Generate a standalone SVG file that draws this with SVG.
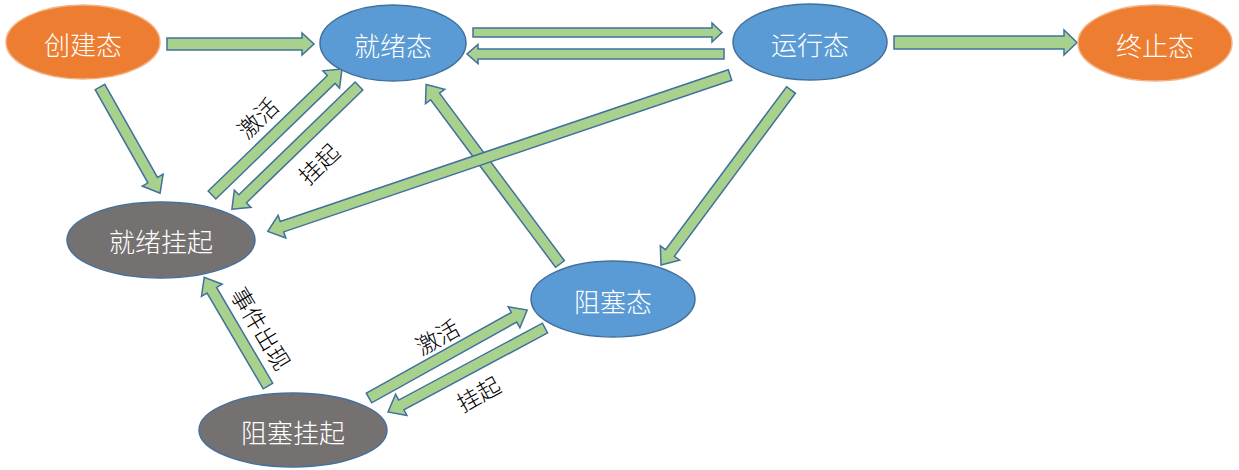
<svg xmlns="http://www.w3.org/2000/svg" width="1239" height="470" viewBox="0 0 1239 470">
<style>
.orange{fill:#ED7D31;stroke:#F4B183;stroke-width:1.5}
.blue{fill:#5B9BD5;stroke:#41719C;stroke-width:1.5}
.gray{fill:#767171;stroke:#41719C;stroke-width:1.5}
.nt{font-family:"Noto Sans CJK SC","Noto Sans",sans-serif;font-size:26px;font-weight:300;fill:#FFFFFF;text-anchor:middle;dominant-baseline:central}
.lb{font-family:"Noto Sans CJK SC","Noto Sans",sans-serif;font-size:23px;font-weight:300;fill:#000000;text-anchor:middle;dominant-baseline:central}
.arr{fill:#A9D18E;stroke:#41719C;stroke-width:1.5;stroke-linejoin:miter}
</style>
<rect width="1239" height="470" fill="#FFFFFF"/>
<g id="connectors">
  <polygon class="arr" transform="translate(167,44)" points="0,-6 135,-6 135,-11 147,0 135,11 135,6 0,6"/>
  <polygon class="arr" transform="translate(473,32.5)" points="0,-4.5 239,-4.5 239,-9.5 249,0 239,9.5 239,4.5 0,4.5"/>
  <polygon class="arr" transform="translate(724,54) rotate(180)" points="0,-5 246,-5 246,-9.5 257,0 246,9.5 246,5 0,5"/>
  <polygon class="arr" transform="translate(894,42.5)" points="0,-6.5 170,-6.5 170,-12.5 183,0 170,12.5 170,6.5 0,6.5"/>
  <polygon class="arr" transform="translate(100,87) rotate(60.5)" points="0,-5.5 107,-5.5 107,-12 122,0 107,12 107,5.5 0,5.5"/>
  <polygon class="arr" transform="translate(212,195) rotate(-44.1)" points="0,-5.5 166,-5.5 166,-12 181,0 166,12 166,5.5 0,5.5"/>
  <polygon class="arr" transform="translate(359,86) rotate(135.9)" points="0,-5.5 162,-5.5 162,-12 177,0 162,12 162,5.5 0,5.5"/>
  <polygon class="arr" transform="translate(560,264) rotate(-126.7)" points="0,-5.5 209,-5.5 209,-12 224,0 209,12 209,5.5 0,5.5"/>
  <polygon class="arr" transform="translate(730,75) rotate(161.3)" points="0,-5.5 473,-5.5 473,-12 488,0 473,12 473,5.5 0,5.5"/>
  <polygon class="arr" transform="translate(791,90) rotate(126.6)" points="0,-5.5 203,-5.5 203,-12 218,0 203,12 203,5.5 0,5.5"/>
  <polygon class="arr" transform="translate(268,386) rotate(-120.4)" points="0,-5.5 111,-5.5 111,-12 126,0 111,12 111,5.5 0,5.5"/>
  <polygon class="arr" transform="translate(369,398) rotate(-29.1)" points="0,-5.5 166,-5.5 166,-12 181,0 166,12 166,5.5 0,5.5"/>
  <polygon class="arr" transform="translate(545,328) rotate(151.85)" points="0,-5.5 163,-5.5 163,-12 178,0 163,12 163,5.5 0,5.5"/>
  <text class="lb" transform="translate(257,117) rotate(-44)">激活</text>
  <text class="lb" transform="translate(318,163) rotate(-44)">挂起</text>
  <text class="lb" transform="translate(262,328) rotate(59)">事件出现</text>
  <text class="lb" transform="translate(437,336) rotate(-29)">激活</text>
  <text class="lb" transform="translate(478,393) rotate(-29)">挂起</text>
</g>
<g id="node-create"><ellipse class="orange" cx="83" cy="42" rx="77" ry="37"/><text class="nt" x="83" y="43">创建态</text></g>
<g id="node-ready"><ellipse class="blue" cx="393" cy="43" rx="73" ry="38"/><text class="nt" x="393" y="44">就绪态</text></g>
<g id="node-running"><ellipse class="blue" cx="810" cy="42" rx="77" ry="38"/><text class="nt" x="810" y="43">运行态</text></g>
<g id="node-terminate"><ellipse class="orange" cx="1155" cy="43" rx="77" ry="38"/><text class="nt" x="1155" y="44">终止态</text></g>
<g id="node-ready-suspend"><ellipse class="gray" cx="161" cy="240" rx="94" ry="38"/><text class="nt" x="161" y="240">就绪挂起</text></g>
<g id="node-blocked"><ellipse class="blue" cx="613" cy="299" rx="82" ry="38"/><text class="nt" x="613" y="300">阻塞态</text></g>
<g id="node-blocked-suspend"><ellipse class="gray" cx="293" cy="430" rx="94" ry="37"/><text class="nt" x="293" y="431">阻塞挂起</text></g>
</svg>
